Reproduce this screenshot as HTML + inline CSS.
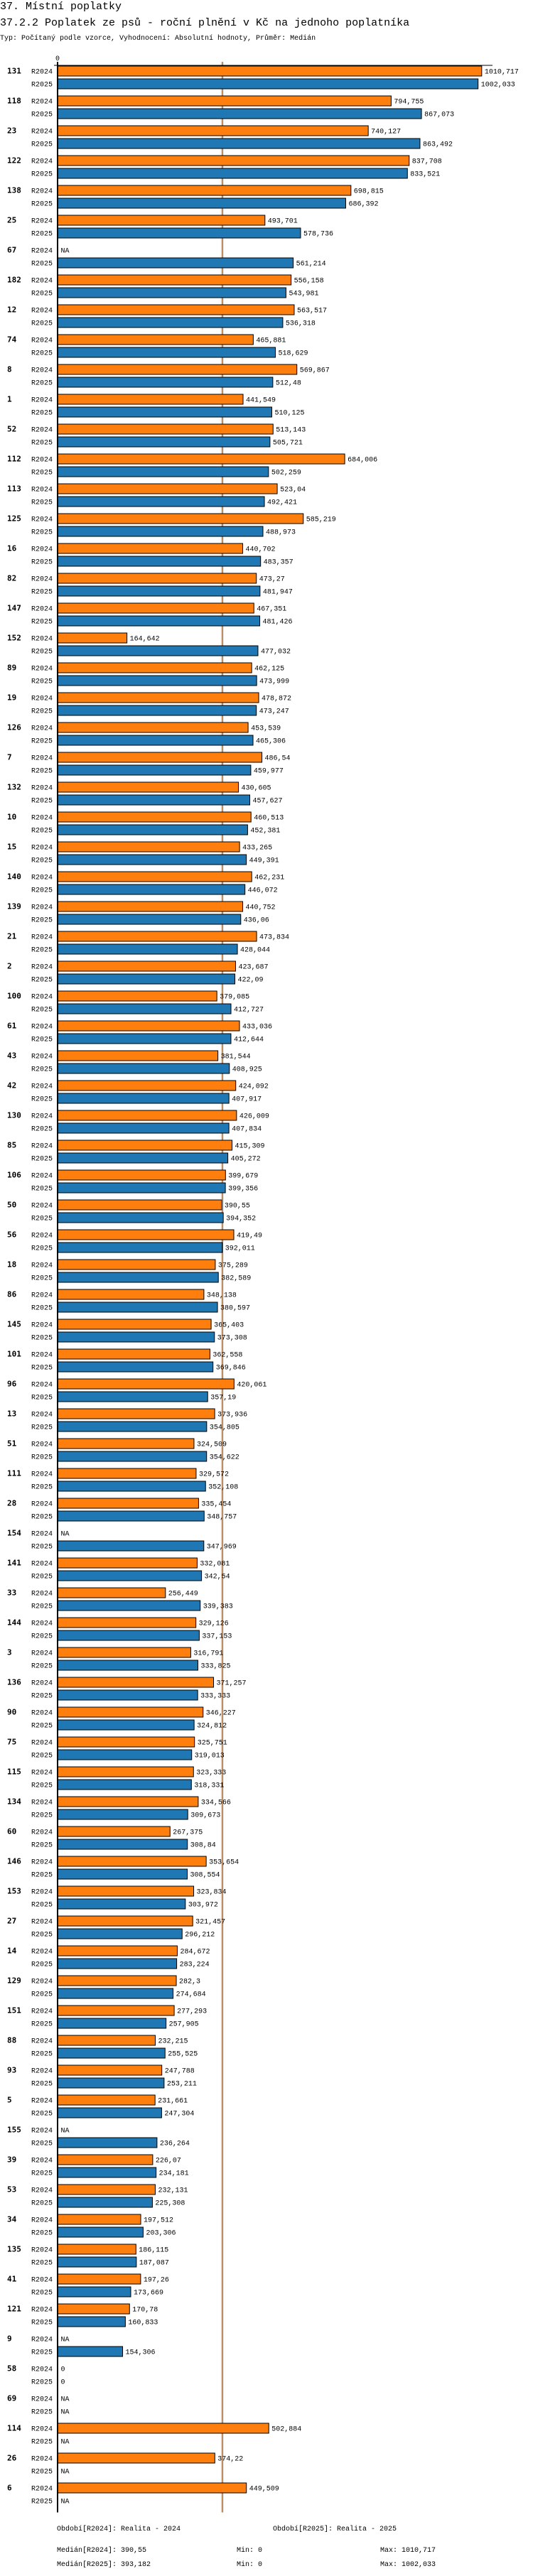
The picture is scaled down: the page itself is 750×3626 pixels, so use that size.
<!DOCTYPE html>
<html><head><meta charset="utf-8">
<style>
body{margin:0;background:#fff;width:750px;height:3626px;overflow:hidden}
svg{display:block}
text{font-family:"Liberation Mono","DejaVu Sans Mono",monospace;fill:#000}
.t1{font-size:15px}
.sm{font-size:10px}
.cat{font-size:11px;font-weight:bold;font-family:"DejaVu Sans Mono","Liberation Mono",monospace}
</style></head><body>
<svg id="chart" width="750" height="3626" xmlns="http://www.w3.org/2000/svg">
<text class="t1" x="0" y="13">37. Místní poplatky</text>
<text class="t1" x="0" y="36">37.2.2 Poplatek ze psů - roční plnění v Kč na jednoho poplatníka</text>
<text class="sm" x="0" y="56">Typ: Počítaný podle vzorce, Vyhodnocení: Absolutní hodnoty, Průměr: Medián</text>
<g id="bars"></g>
<text class="sm" x="80" y="3562">Období[R2024]: Realita - 2024</text>
<text class="sm" x="384" y="3562">Období[R2025]: Realita - 2025</text>
<text class="sm" x="80" y="3592">Medián[R2024]: 390,55</text>
<text class="sm" x="333" y="3592">Min: 0</text>
<text class="sm" x="535" y="3592">Max: 1010,717</text>
<text class="sm" x="80" y="3612">Medián[R2025]: 393,182</text>
<text class="sm" x="333" y="3612">Min: 0</text>
<text class="sm" x="535" y="3612">Max: 1002,033</text>
</svg>
<script>
const categories=["131","118","23","122","138","25","67","182","12","74","8","1","52","112","113","125","16","82","147","152","89","19","126","7","132","10","15","140","139","21","2","100","61","43","42","130","85","106","50","56","18","86","145","101","96","13","51","111","28","154","141","33","144","3","136","90","75","115","134","60","146","153","27","14","129","151","88","93","5","155","39","53","34","135","41","121","9","58","69","114","26","6"];
const r2024=[1010.717,794.755,740.127,837.708,698.815,493.701,null,556.158,563.517,465.881,569.867,441.549,513.143,684.006,523.04,585.219,440.702,473.27,467.351,164.642,462.125,478.872,453.539,486.54,430.605,460.513,433.265,462.231,440.752,473.834,423.687,379.085,433.036,381.544,424.092,426.009,415.309,399.679,390.55,419.49,375.289,348.138,365.403,362.558,420.061,373.936,324.509,329.572,335.454,null,332.081,256.449,329.126,316.791,371.257,346.227,325.751,323.333,334.566,267.375,353.654,323.834,321.457,284.672,282.3,277.293,232.215,247.788,231.661,null,226.07,232.131,197.512,186.115,197.26,170.78,null,0,null,502.884,374.22,449.509];
const r2025=[1002.033,867.073,863.492,833.521,686.392,578.736,561.214,543.981,536.318,518.629,512.48,510.125,505.721,502.259,492.421,488.973,483.357,481.947,481.426,477.032,473.999,473.247,465.306,459.977,457.627,452.381,449.391,446.072,436.06,428.044,422.09,412.727,412.644,408.925,407.917,407.834,405.272,399.356,394.352,392.011,382.589,380.597,373.308,369.846,357.19,354.805,354.622,352.108,348.757,347.969,342.54,339.383,337.153,333.825,333.333,324.812,319.013,318.331,309.673,308.84,308.554,303.972,296.212,283.224,274.684,257.905,255.525,253.211,247.304,236.264,234.181,225.308,203.306,187.087,173.669,160.833,154.306,0,null,null,null,null];
const medians=[390.55,393.182];
const seriesNames=["R2024","R2025"];
const colors=["#ff7f0e","#1f77b4"];

const NS="http://www.w3.org/2000/svg";
const barsLayer=document.getElementById('bars');
const x0=81.5, k=0.59;
const xs=v=>x0+v*k;
const yTop=i=>92.5+i*42;
function mk(tag,attrs){const e=document.createElementNS(NS,tag);for(const a in attrs)e.setAttribute(a,attrs[a]);barsLayer.appendChild(e);return e;}
function fmt(v){return String(v).replace('.',',');}
const chartBottom=yTop(categories.length-1)+42;

medians.forEach((m,s)=>{
  const l=mk('line',{x1:xs(m),x2:xs(m),y1:87,y2:chartBottom,stroke:colors[s],'stroke-width':1});
  
  
});

categories.forEach((c,i)=>{
  const t=mk('text',{x:10,y:yTop(i)+11,class:'cat'});t.textContent=c;
  
  
  [r2024,r2025].forEach((arr,s)=>{
    const y=yTop(i)+s*18;
    const lab=mk('text',{x:44,y:y+11,class:'sm'});lab.textContent=seriesNames[s];
    
    
    const v=arr[i];
    let tx=x0+4;
    if(v!==null&&v>0){
      const r=mk('rect',{x:x0,y:y+0.5,width:xs(v)-x0,height:14,fill:colors[s],stroke:'#000','stroke-width':1});
      
      
      tx=xs(v)+4;
    }
    const vl=mk('text',{x:tx,y:y+11,class:'sm'});vl.textContent=v===null?'NA':fmt(v);
    
    
  });
});
const yAxisLine=mk('line',{x1:x0-0.5,x2:x0-0.5,y1:87,y2:chartBottom,stroke:'#000','stroke-width':2});


const xAxisLine=mk('line',{x1:76,x2:693,y1:92,y2:92,stroke:'#000','stroke-width':1});


const zeroTick=mk('text',{x:78,y:85,class:'sm'});zeroTick.textContent='0';


</script>
</body></html>
